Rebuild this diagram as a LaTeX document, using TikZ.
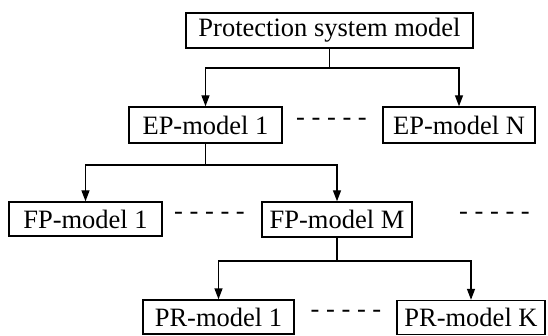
\documentclass[tikz,border=0pt]{standalone}
\usepackage{fontspec}
\setmainfont{Liberation Serif}
\usetikzlibrary{arrows.meta}
\begin{document}
\begin{tikzpicture}[x=1pt,y=-1pt,
  box/.style={draw,line width=1.4pt,inner sep=0pt,font=\fontsize{26.5}{28}\selectfont},
  conn/.style={line width=1.4pt},
  arr/.style={line width=1.4pt,-{Triangle[length=11pt,width=8pt]}},
  dots/.style={inner sep=0pt,font=\fontsize{26.5}{28}\selectfont}]
\useasboundingbox (0,0) rectangle (548,336);
\node[box,minimum width=287pt,minimum height=35pt] (top) at (329.5,30.5) {Protection system model};
\node[box,minimum width=153pt,minimum height=36pt] (ep1) at (205.5,125) {EP-model 1};
\node[box,minimum width=152pt,minimum height=36pt] (epn) at (459,125) {EP-model N};
\node[box,minimum width=153pt,minimum height=34pt] (fp1) at (85.5,219) {FP-model 1};
\node[box,minimum width=150pt,minimum height=35pt] (fpm) at (337,219.5) {FP-model M};
\node[box,minimum width=151pt,minimum height=34pt] (pr1) at (218.5,317) {PR-model 1};
\node[box,minimum width=148pt,minimum height=34pt] (prk) at (471,317.5) {PR-model K};
\node[dots] (d1) at (331.5,122) {- - - - -};
\node[dots] (d2) at (209.5,216) {- - - - -};
\node[dots] (d3) at (494.5,216) {- - - - -};
\node[dots] (d4) at (346,314) {- - - - -};
% top level
\coordinate (j1) at (top.south |- 0,68);
\draw[conn] (top.south) -- (j1);
\draw[arr] (j1) -| (ep1.north);
\draw[arr] (j1) -| (epn.north);
% second level
\coordinate (j2) at (ep1.south |- 0,165);
\draw[conn] (ep1.south) -- (j2);
\draw[arr] (j2) -| (fp1.north);
\draw[arr] (j2) -| (fpm.north);
% third level
\coordinate (j3) at (fpm.south |- 0,261);
\draw[conn] (fpm.south) -- (j3);
\draw[arr] (j3) -| (pr1.north);
\draw[arr] (j3) -| (prk.north);
\end{tikzpicture}
\end{document}
